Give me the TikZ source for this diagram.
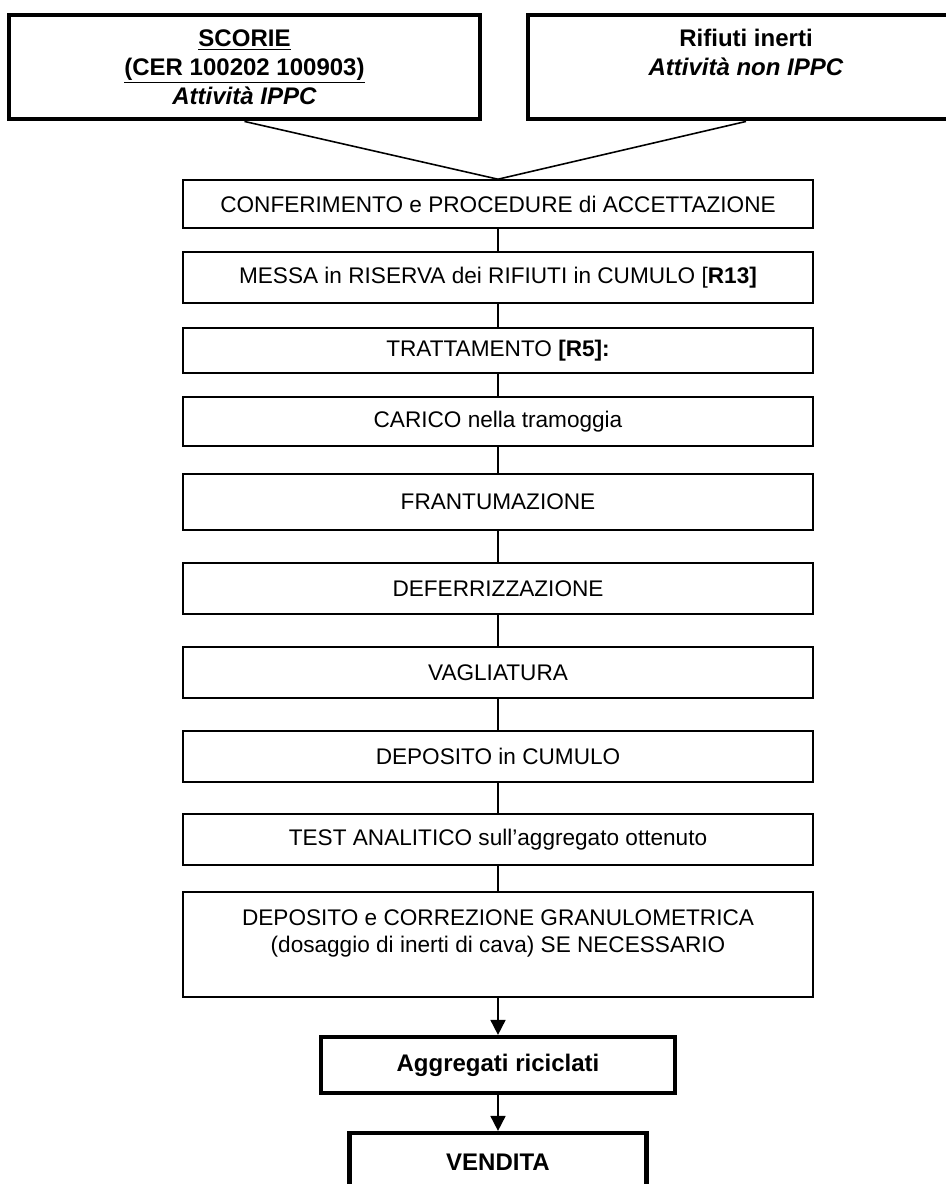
\documentclass[tikz,border=0pt]{standalone}
\usepackage{fontspec}
\setmainfont{Liberation Sans}
\usetikzlibrary{arrows.meta}

\def\xc{9.96}
\def\xl{4.89}
\def\xr{14.92}

\begin{document}
\begin{tikzpicture}[
    stepbox/.style={rectangle, draw, line width=0.9pt, minimum width=12.6cm, inner sep=0pt,
      align=center, font=\fontsize{12.86}{15.4}\selectfont},
    srcbox/.style={rectangle, draw, line width=2.8pt, minimum height=2.08cm, inner sep=0pt,
      align=center, font=\fontsize{13.66}{16.5}\selectfont\bfseries},
    outbox/.style={rectangle, draw, line width=2.4pt, inner sep=0pt,
      align=center, font=\fontsize{13.66}{16.5}\selectfont\bfseries},
    link/.style={line width=0.9pt},
    flow/.style={line width=1pt, -{Triangle[length=0.3cm, width=0.3cm]}}
  ]
    \useasboundingbox (0,0) rectangle (18.9,-23.68);

    % sources
    \node[srcbox, minimum width=9.42cm] (scorie) at (\xl, -1.34)
      {\underline{SCORIE}\\ \underline{(CER 100202 100903)}\\ \textit{Attività IPPC}};
    \node[srcbox, minimum width=8.72cm] (rifiuti) at (\xr, -1.34)
      {Rifiuti inerti\\ \textit{Attività non IPPC}\\ \mbox{}};

    % process steps
    \node[stepbox, minimum height=0.96cm] (conferimento) at (\xc, -4.08)
      {CONFERIMENTO e PROCEDURE di ACCETTAZIONE};
    \node[stepbox, minimum height=1.02cm] (riserva) at (\xc, -5.55)
      {MESSA in RISERVA dei RIFIUTI in CUMULO [\textbf{R13]}};
    \node[stepbox, minimum height=0.90cm] (trattamento) at (\xc, -7.01)
      {TRATTAMENTO \textbf{[R5]:}};
    \node[stepbox, minimum height=0.98cm] (carico) at (\xc, -8.43)
      {CARICO nella tramoggia};
    \node[stepbox, minimum height=1.12cm] (frantumazione) at (\xc, -10.04)
      {FRANTUMAZIONE};
    \node[stepbox, minimum height=1.02cm] (deferrizzazione) at (\xc, -11.77)
      {DEFERRIZZAZIONE};
    \node[stepbox, minimum height=1.02cm] (vagliatura) at (\xc, -13.45)
      {VAGLIATURA};
    \node[stepbox, minimum height=1.02cm] (cumulo) at (\xc, -15.13)
      {DEPOSITO in CUMULO};
    \node[stepbox, minimum height=1.02cm] (test) at (\xc, -16.79)
      {TEST ANALITICO sull’aggregato ottenuto};
    \node[stepbox, minimum height=2.10cm] (correzione) at (\xc, -18.89)
      {DEPOSITO e CORREZIONE GRANULOMETRICA\\ (dosaggio di inerti di cava) SE NECESSARIO\\ \mbox{}};

    % products
    \node[outbox, minimum width=7.08cm, minimum height=1.12cm] (aggregati) at (\xc, -21.30)
      {Aggregati riciclati};
    \node[outbox, minimum width=5.94cm, minimum height=1.16cm] (vendita) at (\xc, -23.24)
      {VENDITA};

    \draw[link] (scorie.south)  -- (conferimento.north);
    \draw[link] (rifiuti.south) -- (conferimento.north);
    \draw[link] (conferimento)  -- (riserva);
    \draw[link] (riserva)       -- (trattamento);
    \draw[link] (trattamento)   -- (carico);
    \draw[link] (carico)        -- (frantumazione);
    \draw[link] (frantumazione) -- (deferrizzazione);
    \draw[link] (deferrizzazione) -- (vagliatura);
    \draw[link] (vagliatura)    -- (cumulo);
    \draw[link] (cumulo)        -- (test);
    \draw[link] (test)          -- (correzione);
    \draw[flow] (correzione)    -- (aggregati);
    \draw[flow] (aggregati)     -- (vendita);
  \end{tikzpicture}
\end{document}
